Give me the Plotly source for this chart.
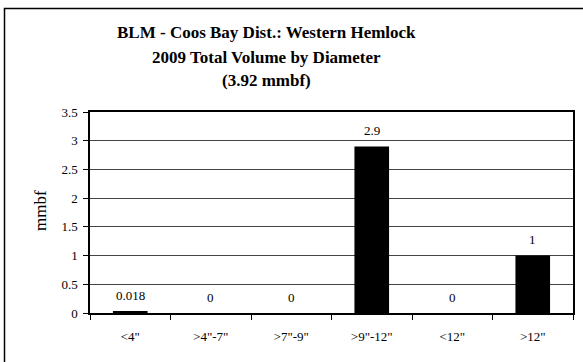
import plotly.graph_objects as go

categories = ['<4"', '>4"-7"', '>7"-9"', '>9"-12"', '<12"', '>12"']
values = [0.018, 0, 0, 2.9, 0, 1]
labels = ["0.018", "0", "0", "2.9", "0", "1"]
title_lines = ["BLM - Coos Bay Dist.: Western Hemlock", "2009 Total Volume by Diameter", "(3.92 mmbf)"]
y_ticks = [0, 0.5, 1, 1.5, 2, 2.5, 3, 3.5]
y_tick_text = ["0", "0.5", "1", "1.5", "2", "2.5", "3", "3.5"]

W, H = 583, 362
L, R, T, B = 90, 10, 112, 49
pw, ph = W - L - R, H - T - B

def px(x):
    return (x - L) / pw

def py(y):
    return (H - B - y) / ph

font = "Liberation Serif, Times New Roman, serif"

fig = go.Figure()
fig.add_trace(go.Bar(x=categories, y=values, marker=dict(color="black", line=dict(width=0)),
                     width=0.43, hoverinfo="skip"))

annotations = []
for c, v, t in zip(categories, values, labels):
    annotations.append(dict(x=c, y=v, xref="x", yref="y", text=t, showarrow=False,
                            yshift=16, font=dict(family=font, size=13, color="black")))
for i, line in enumerate(title_lines):
    annotations.append(dict(x=px(266), y=py([33, 57, 81][i]), xref="paper", yref="paper",
                            text="<b>%s</b>" % line, showarrow=False, xanchor="center", yanchor="middle",
                            font=dict(family=font, size=17, color="black")))
annotations.append(dict(x=px(40), y=py(211), xref="paper", yref="paper", text="mmbf",
                        textangle=-90, showarrow=False, xanchor="center", yanchor="middle",
                        font=dict(family=font, size=17, color="black")))

fig.update_layout(
    width=W, height=H,
    margin=dict(l=L, r=R, t=T, b=B, autoexpand=False),
    paper_bgcolor="white", plot_bgcolor="white",
    showlegend=False,
    annotations=annotations,
    font=dict(family=font, size=13, color="black"),
    shapes=[dict(type="rect", xref="paper", yref="paper",
                 x0=px(4.5), x1=px(600), y0=py(8.5), y1=py(380),
                 line=dict(color="black", width=1.5), fillcolor="rgba(0,0,0,0)", layer="below")],
)
fig.update_xaxes(showline=True, linecolor="black", linewidth=1.5, mirror=True,
                 ticks="outside", tickson="boundaries", ticklen=5, tickcolor="black",
                 showgrid=False, tickfont=dict(family=font, size=13, color="black"),
                 ticklabelstandoff=11, automargin=False, fixedrange=True)
fig.update_yaxes(range=[0, 3.5], tickvals=y_ticks, ticktext=y_tick_text,
                 showline=True, linecolor="black", linewidth=1.5, mirror=True,
                 ticks="outside", ticklen=5, tickcolor="black",
                 showgrid=True, gridcolor="#444444", gridwidth=1, zeroline=False,
                 tickfont=dict(family=font, size=13, color="black"),
                 ticklabelstandoff=3, automargin=False, fixedrange=True)

fig.write_html("out.html", config={"displayModeBar": False},
               post_script="document.body.style.margin='0px';")
